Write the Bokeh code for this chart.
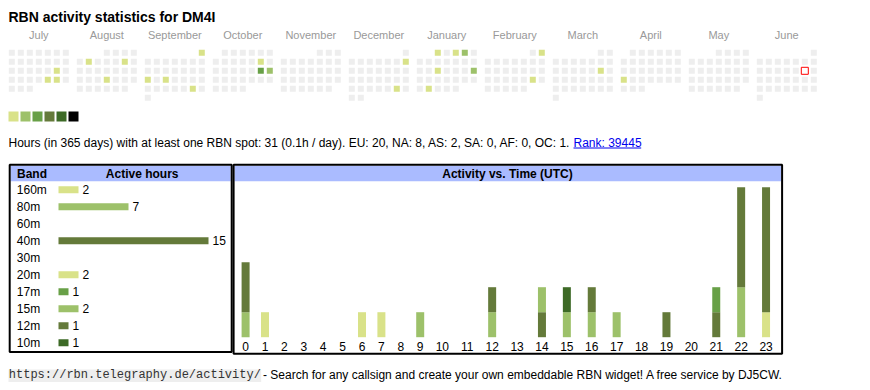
import datetime as dt
from bokeh.plotting import figure
from bokeh.models import Range1d, ColumnDataSource
from bokeh.core.properties import value
from bokeh.embed import file_html
from bokeh.resources import INLINE

# ---------------- data ----------------
title_text = "RBN activity statistics for DM4I"
month_names = ["July", "August", "September", "October", "November", "December",
               "January", "February", "March", "April", "May", "June"]
month_years = [2024, 2024, 2024, 2024, 2024, 2024, 2025, 2025, 2025, 2025, 2025, 2025]
month_numbers = [7, 8, 9, 10, 11, 12, 1, 2, 3, 4, 5, 6]

active_days = ["2024-07-20", "2024-07-26", "2024-07-27",
               "2024-08-06", "2024-08-10", "2024-08-22",
               "2024-09-01", "2024-09-16", "2024-09-18", "2024-09-28",
               "2024-10-12", "2024-10-19", "2024-10-20",
               "2024-12-08", "2024-12-28",
               "2025-01-01", "2025-01-03", "2025-01-04", "2025-01-15", "2025-01-19", "2025-01-28",
               "2025-02-02", "2025-02-22",
               "2025-03-15",
               "2025-04-21"]
active_levels = [1, 1, 1,
                 1, 1, 1,
                 1, 1, 1, 1,
                 1, 3, 2,
                 1, 1,
                 1, 1, 2, 1, 2, 1,
                 1, 1,
                 1,
                 1]
today_day = "2025-06-14"
level_colors = ["#eeeeee", "#d9e289", "#9dc16a", "#68a047", "#647a3a", "#3d6a26", "#000000"]

stats_text = "Hours (in 365 days) with at least one RBN spot: 31 (0.1h / day). EU: 20, NA: 8, AS: 2, SA: 0, AF: 0, OC: 1."
rank_text = "Rank: 39445"

bands = ["160m", "80m", "60m", "40m", "30m", "20m", "17m", "15m", "12m", "10m"]
band_hours = [2, 7, 0, 15, 0, 2, 1, 2, 1, 1]
band_colors = ["#d9e289", "#9dc16a", "#68a047", "#647a3a", "#3d6a26",
               "#d9e289", "#68a047", "#9dc16a", "#647a3a", "#3d6a26"]

hours = list(range(24))
#            0  1  2  3  4  5  6  7  8  9 10 11 12 13 14 15 16 17 18 19 20 21 22 23
hours_160m = [0, 1, 0, 0, 0, 0, 0, 0, 0, 0, 0, 0, 0, 0, 0, 0, 0, 0, 0, 0, 0, 0, 0, 1]
hours_80m  = [1, 0, 0, 0, 0, 0, 0, 0, 0, 1, 0, 0, 1, 0, 0, 0, 1, 1, 0, 0, 0, 0, 2, 0]
hours_60m  = [0, 0, 0, 0, 0, 0, 0, 0, 0, 0, 0, 0, 0, 0, 0, 0, 0, 0, 0, 0, 0, 0, 0, 0]
hours_40m  = [2, 0, 0, 0, 0, 0, 0, 0, 0, 0, 0, 0, 1, 0, 1, 0, 1, 0, 0, 0, 0, 1, 4, 5]
hours_30m  = [0, 0, 0, 0, 0, 0, 0, 0, 0, 0, 0, 0, 0, 0, 0, 0, 0, 0, 0, 0, 0, 0, 0, 0]
hours_20m  = [0, 0, 0, 0, 0, 0, 1, 1, 0, 0, 0, 0, 0, 0, 0, 0, 0, 0, 0, 0, 0, 0, 0, 0]
hours_17m  = [0, 0, 0, 0, 0, 0, 0, 0, 0, 0, 0, 0, 0, 0, 0, 0, 0, 0, 0, 0, 0, 1, 0, 0]
hours_15m  = [0, 0, 0, 0, 0, 0, 0, 0, 0, 0, 0, 0, 0, 0, 1, 1, 0, 0, 0, 0, 0, 0, 0, 0]
hours_12m  = [0, 0, 0, 0, 0, 0, 0, 0, 0, 0, 0, 0, 0, 0, 0, 0, 0, 0, 0, 1, 0, 0, 0, 0]
hours_10m  = [0, 0, 0, 0, 0, 0, 0, 0, 0, 0, 0, 0, 0, 0, 0, 1, 0, 0, 0, 0, 0, 0, 0, 0]
hour_series = [hours_160m, hours_80m, hours_60m, hours_40m, hours_30m,
               hours_20m, hours_17m, hours_15m, hours_12m, hours_10m]

footer_url = "https://rbn.telegraphy.de/activity/"
footer_text = "- Search for any callsign and create your own embeddable RBN widget! A free service by DJ5CW."

# ---------------- layout constants (window pixels) ----------------
SANS = value("Liberation Sans")
MONO = value("Liberation Mono")
WIN_W, WIN_H = 870, 390
TY = -4.0                          # baseline correction for text glyphs
CAL_X0, CAL_Y0, CELL, PITCH, BLOCK = 8.3, 49.3, 6, 9, 68
ROW0, ROWH = 189.3, 17.0          # band table rows
BAR_X0, PX_PER_H = 58.0, 10.0     # band table bars
BASE_Y, PX_PER_C = 336.7, 25.0    # hour chart baseline / unit height
W1, W2, HX0 = 19.4, 24.9, 235.4   # hour table column widths

p = figure(width=WIN_W, height=WIN_H, x_range=Range1d(0, WIN_W), y_range=Range1d(WIN_H, 0),
           output_backend="svg", toolbar_location=None, min_border=0,
           x_axis_location=None, y_axis_location=None, outline_line_color=None)
p.grid.visible = False
p.background_fill_color = "white"
p.border_fill_color = "white"

p.extra_x_ranges = {"bandx": Range1d((0 - BAR_X0) / PX_PER_H, (WIN_W - BAR_X0) / PX_PER_H)}
p.extra_y_ranges = {
    "bandy": Range1d((WIN_H - ROW0) / ROWH, (0 - ROW0) / ROWH),
    "county": Range1d((BASE_Y - WIN_H) / PX_PER_C, (BASE_Y - 0) / PX_PER_C),
}

# title
p.text(x=[8], y=[20.7 + TY], text=[title_text], text_font=SANS, text_font_size="14px",
       text_font_style="bold", text_color="#000000", text_baseline="alphabetic")

# calendar
active = dict(zip(active_days, active_levels))
cx, cy, cc = [], [], []
mx = []
today_xy = None
for m, (yr, mo) in enumerate(zip(month_years, month_numbers)):
    first = dt.date(yr, mo, 1)
    off = first.weekday()
    bx = CAL_X0 + m * BLOCK
    mx.append(bx + 30)
    d = first
    while d.month == mo:
        col = d.weekday()
        row = (d.day - 1 + off) // 7
        x = bx + col * PITCH + CELL / 2
        y = CAL_Y0 + row * PITCH + CELL / 2
        cx.append(x); cy.append(y)
        cc.append(level_colors[active.get(d.isoformat(), 0)])
        if d.isoformat() == today_day:
            today_xy = (x, y)
        d += dt.timedelta(days=1)

p.text(x=mx, y=[38.8 + TY] * len(mx), text=month_names, text_font=SANS, text_font_size="11px",
       text_color="#999999", text_align="center", text_baseline="alphabetic")
p.rect(x=cx, y=cy, width=CELL, height=CELL, fill_color=cc, line_color=None)
if today_xy:
    p.rect(x=[today_xy[0]], y=[today_xy[1]], width=7, height=7, fill_color="white",
           line_color="#ff0000", line_width=1)

# legend squares
lx = [8 + 12 * i + 5 for i in range(6)]
p.rect(x=lx, y=[116] * 6, width=10, height=10, fill_color=level_colors[1:], line_color=None)

# stats line
p.text(x=[8], y=[146 + TY], text=[stats_text], text_font=SANS, text_font_size="12px",
       text_color="#000000", text_baseline="alphabetic")
p.text(x=[573], y=[146 + TY], text=[rank_text], text_font=SANS, text_font_size="12px",
       text_color="#0000ee", text_baseline="alphabetic")
p.segment(x0=[573], y0=[147.5], x1=[640.7], y1=[147.5], line_color="#0000ee", line_width=1)

# ---- boxes ----
p.quad(left=[10, 234], right=[230.2, 780.5], top=[165.2, 165.2], bottom=[180.7, 180.7],
       fill_color="#aabbff", line_color=None)
p.quad(left=[9.2, 233.1], right=[231.2, 781.6], top=[164.2, 164.2], bottom=[351.5, 353.2],
       fill_color=None, line_color="#000000", line_width=2)

hdr = dict(text_font=SANS, text_font_size="12px", text_font_style="bold",
           text_color="#000000", text_baseline="alphabetic")
p.text(x=[16.5], y=[177.3 + TY], text=["Band"], **hdr)
p.text(x=[141.7], y=[177.3 + TY], text=["Active hours"], text_align="center", **hdr)
p.text(x=[507], y=[177.3 + TY], text=["Activity vs. Time (UTC)"], text_align="center", **hdr)

# band table
bidx = list(range(len(bands)))
bsrc = ColumnDataSource(dict(y=bidx, right=band_hours, color=band_colors,
                             label=[str(v) if v else "" for v in band_hours]))
p.text(x=[16.3] * len(bands), y=bidx, text=bands, y_range_name="bandy", y_offset=4 + TY,
       text_font=SANS, text_font_size="12px", text_color="#000000", text_baseline="alphabetic")
p.hbar(y="y", left=0, right="right", height=7 / ROWH, fill_color="color", line_color=None,
       source=bsrc, x_range_name="bandx", y_range_name="bandy")
p.text(x="right", y="y", text="label", source=bsrc, x_range_name="bandx", y_range_name="bandy",
       x_offset=4, y_offset=4 + TY, text_font=SANS, text_font_size="12px", text_color="#000000",
       text_baseline="alphabetic")

# hour chart
hour_x = []
edge = HX0
for h in hours:
    w = W1 if h < 10 else W2
    hour_x.append(edge + w / 2)
    edge += w
hdata = {"x": hour_x}
for b, s in zip(bands, hour_series):
    hdata[b] = s
hsrc = ColumnDataSource(hdata)
p.vbar_stack(bands, x="x", width=8, fill_color=band_colors, line_color=None,
             source=hsrc, y_range_name="county")
p.text(x=hour_x, y=[350 + TY] * 24, text=[str(h) for h in hours], text_font=SANS,
       text_font_size="12px", text_color="#000000", text_align="center",
       text_baseline="alphabetic")

# footer
p.quad(left=[8], right=[260.7], top=[369], bottom=[381.5], fill_color="#eeeeee", line_color=None)
p.text(x=[8.3], y=[378.3 + TY], text=[footer_url], text_font=MONO, text_font_size="12px",
       text_color="#333333", text_baseline="alphabetic")
p.text(x=[262.5], y=[378.3 + TY], text=[footer_text], text_font=SANS, text_font_size="12px",
       text_color="#000000", text_baseline="alphabetic")

html = file_html(p, INLINE, title="RBN activity statistics for DM4I")
open("out.html", "w").write(html)
